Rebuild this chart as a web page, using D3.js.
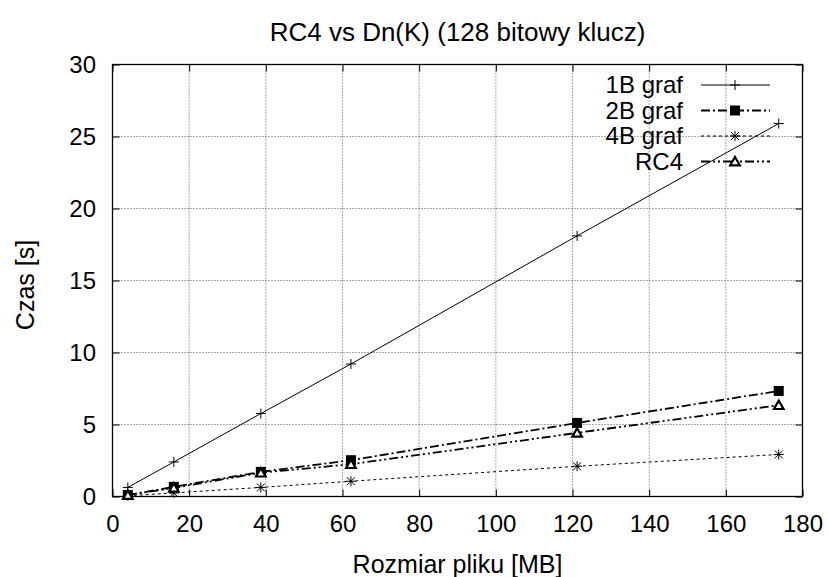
<!DOCTYPE html>
<html>
<head>
<meta charset="utf-8">
<script src="https://cdn.jsdelivr.net/npm/d3@7"></script>
<style>
  body { margin: 0; background: #fff; }
  text { font-family: "Liberation Sans", Arial, sans-serif; fill: #000; }
</style>
</head>
<body>
<svg width="828" height="577"></svg>
<script>
// data
const sizesMB = [4, 16, 38.7, 62.2, 121.2, 173.8]
const seriesNames = ['1B graf', '2B graf', '4B graf', 'RC4']
const graf1B = [0.63, 2.4, 5.76, 9.2, 18.1, 25.9]
const graf2B = [0.1, 0.67, 1.71, 2.52, 5.11, 7.33]
const graf4B = [0.05, 0.25, 0.63, 1.06, 2.1, 2.92]
const rc4 = [0.1, 0.6, 1.65, 2.24, 4.42, 6.34]
const xTicks = [0, 20, 40, 60, 80, 100, 120, 140, 160, 180]
const yTicks = [0, 5, 10, 15, 20, 25, 30]

let svg = d3.select('svg')
const fontSize = '24px'

// plot box
let pLeft = 112.5, pRight = 802.5, pTop = 64.5, pBottom = 496.5
let x = d3.scaleLinear().domain([0, 180]).range([pLeft, pRight])
let y = d3.scaleLinear().domain([0, 30]).range([pBottom, pTop])

// grid
let grid = svg.append('g')
grid.selectAll('.gx').data(xTicks.slice(1, -1)).enter().append('line')
  .attr('x1', d => x(d)).attr('x2', d => x(d)).attr('y1', pTop).attr('y2', pBottom)
  .attr('stroke', '#555').attr('stroke-width', 1).attr('stroke-dasharray', '1,2')
grid.selectAll('.gy').data(yTicks.slice(1, -1)).enter().append('line')
  .attr('y1', d => y(d)).attr('y2', d => y(d)).attr('x1', pLeft).attr('x2', pRight)
  .attr('stroke', '#555').attr('stroke-width', 1).attr('stroke-dasharray', '1,2')

// axes with inward ticks, mirrored
let xAxis = svg.append('g').attr('transform', `translate(0,${pBottom})`)
  .call(d3.axisBottom(x).tickValues(xTicks).tickSizeInner(-7).tickSizeOuter(0).tickPadding(18))
let xAxisTop = svg.append('g').attr('transform', `translate(0,${pTop})`)
  .call(d3.axisTop(x).tickValues(xTicks).tickSizeInner(-7).tickSizeOuter(0).tickFormat(''))
let yAxis = svg.append('g').attr('transform', `translate(${pLeft},0)`)
  .call(d3.axisLeft(y).tickValues(yTicks).tickSizeInner(-7).tickSizeOuter(0).tickPadding(16.5))
let yAxisRight = svg.append('g').attr('transform', `translate(${pRight},0)`)
  .call(d3.axisRight(y).tickValues(yTicks).tickSizeInner(-7).tickSizeOuter(0).tickFormat(''))
;[xAxis, xAxisTop, yAxis, yAxisRight].forEach(a => {
  a.selectAll('.domain').remove()
  a.selectAll('line').attr('stroke', '#000')
  a.attr('font-size', null).attr('font-family', null)
  a.selectAll('text').style('font-size', fontSize)
})

svg.append('rect').attr('x', pLeft).attr('y', pTop).attr('width', pRight - pLeft).attr('height', pBottom - pTop)
  .attr('fill', 'none').attr('stroke', '#000').attr('stroke-width', 1.3)

// titles
svg.append('text').attr('x', (pLeft + pRight) / 2).attr('y', 41).attr('text-anchor', 'middle')
  .style('font-size', '26px').text('RC4 vs Dn(K) (128 bitowy klucz)')
svg.append('text').attr('x', (pLeft + pRight) / 2).attr('y', 573).attr('text-anchor', 'middle')
  .style('font-size', '25px').text('Rozmiar pliku [MB]')
svg.append('text').attr('transform', 'translate(34,285) rotate(-90)').attr('text-anchor', 'middle')
  .style('font-size', '25px').text('Czas [s]')

// series
let series = [
  { name: seriesNames[0], values: graf1B, dash: null, width: 1, marker: 'plus' },
  { name: seriesNames[1], values: graf2B, dash: '9,3,2,3', width: 1.8, marker: 'square' },
  { name: seriesNames[2], values: graf4B, dash: '3,3', width: 1, marker: 'star' },
  { name: seriesNames[3], values: rc4, dash: '9,3,2,3,2,3', width: 1.8, marker: 'triangle' }
]

let line = d3.line().x(d => x(d[0])).y(d => y(d[1]))

function drawMarker(g, kind, cx, cy) {
  if (kind === 'plus') {
    g.append('path').attr('d', `M${cx - 5},${cy}H${cx + 5}M${cx},${cy - 5}V${cy + 5}`)
      .attr('stroke', '#000').attr('stroke-width', 1)
  } else if (kind === 'square') {
    g.append('rect').attr('x', cx - 5).attr('y', cy - 5).attr('width', 10).attr('height', 10).attr('fill', '#000')
  } else if (kind === 'star') {
    g.append('path').attr('d', `M${cx - 5},${cy}H${cx + 5}M${cx},${cy - 5}V${cy + 5}M${cx - 4},${cy - 4}L${cx + 4},${cy + 4}M${cx - 4},${cy + 4}L${cx + 4},${cy - 4}`)
      .attr('stroke', '#000').attr('stroke-width', 1)
  } else {
    g.append('path').attr('d', d3.symbol(d3.symbolTriangle, 40)())
      .attr('transform', `translate(${cx},${cy + 1})`).attr('fill', '#fff').attr('stroke', '#000').attr('stroke-width', 2.2)
  }
}

series.forEach((s, i) => {
  let pts = sizesMB.map((m, j) => [m, s.values[j]])
  let g = svg.append('g')
  g.append('path').datum(pts).attr('d', line).attr('fill', 'none')
    .attr('stroke', '#000').attr('stroke-width', s.width).attr('stroke-dasharray', s.dash)
  pts.forEach(p => drawMarker(g, s.marker, x(p[0]), y(p[1])))

  // legend
  let ly = 85 + i * 25.5
  let lg = svg.append('g')
  lg.append('text').attr('x', 683).attr('y', ly).attr('dy', '0.35em').attr('text-anchor', 'end')
    .style('font-size', fontSize).text(s.name)
  lg.append('line').attr('x1', 701).attr('x2', 770).attr('y1', ly).attr('y2', ly)
    .attr('stroke', '#000').attr('stroke-width', s.width).attr('stroke-dasharray', s.dash)
  drawMarker(lg, s.marker, 735, ly)
})
</script>
</body>
</html>
